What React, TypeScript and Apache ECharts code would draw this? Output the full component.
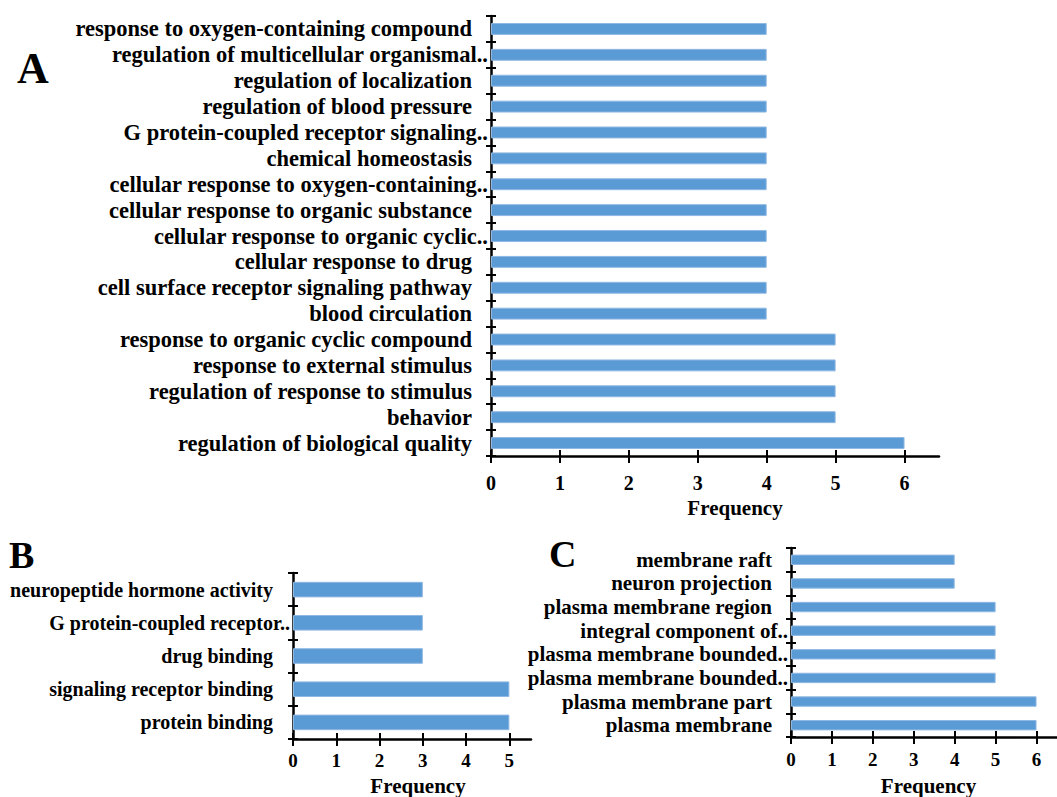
import React, { useEffect, useRef } from "react";
import * as echarts from "echarts";

const A_CATS = [
  "response to oxygen-containing compound",
  "regulation of multicellular organismal..",
  "regulation of localization",
  "regulation of blood pressure",
  "G protein-coupled receptor signaling..",
  "chemical homeostasis",
  "cellular response to oxygen-containing..",
  "cellular response to organic substance",
  "cellular response to organic cyclic..",
  "cellular response to drug",
  "cell surface receptor signaling pathway",
  "blood circulation",
  "response to organic cyclic compound",
  "response to external stimulus",
  "regulation of response to stimulus",
  "behavior",
  "regulation of biological quality",
];
const A_VALS = [4, 4, 4, 4, 4, 4, 4, 4, 4, 4, 4, 4, 5, 5, 5, 5, 6];

const B_CATS = [
  "neuropeptide hormone activity",
  "G protein-coupled receptor..",
  "drug binding",
  "signaling receptor binding",
  "protein binding",
];
const B_VALS = [3, 3, 3, 5, 5];

const C_CATS = [
  "membrane raft",
  "neuron projection",
  "plasma membrane region",
  "integral component of..",
  "plasma membrane bounded..",
  "plasma membrane bounded..",
  "plasma membrane part",
  "plasma membrane",
];
const C_VALS = [4, 4, 5, 5, 5, 5, 6, 6];

const A_TICKS = [0, 1, 2, 3, 4, 5, 6];
const B_TICKS = [0, 1, 2, 3, 4, 5];
const C_TICKS = [0, 1, 2, 3, 4, 5, 6];

const AXIS_TITLE = "Frequency";
const PANEL_LETTERS = ["A", "B", "C"];

const SERIF = "Liberation Serif";
const BAR_COLOR = "#5B9BD5";

function catLabel(fontSize: number, pad: number) {
  const base = { fontFamily: SERIF, fontWeight: "bold" as const, fontSize, color: "#000" };
  return {
    show: true,
    margin: 3,
    interval: 0,
    formatter: (v: string) => (v.endsWith("..") ? `{d|${v}}` : `{n|${v}}`),
    rich: {
      n: { ...base, padding: [0, pad, 0, 0] },
      d: { ...base },
    },
    ...base,
  };
}

export default function App() {
  const ref = useRef<HTMLDivElement>(null);

  useEffect(() => {
    document.body.style.margin = "0";
    if (!ref.current) return;
    const chart = echarts.init(ref.current, null, { renderer: "svg" });

    const panels = [
      { cats: A_CATS, vals: A_VALS, ticks: A_TICKS, max: 6.5, labelSize: 22.5, tickSize: 20, pad: 16, margin: 17, nameGap: 40, namePad: 40, barWidth: "46%" },
      { cats: B_CATS, vals: B_VALS, ticks: B_TICKS, max: 5.5, labelSize: 20, tickSize: 19, pad: 17, margin: 12, nameGap: 36, namePad: 12, barWidth: "47%" },
      { cats: C_CATS, vals: C_VALS, ticks: C_TICKS, max: 6.5, labelSize: 21, tickSize: 19, pad: 16, margin: 13, nameGap: 38, namePad: 9, barWidth: "44%" },
    ];

    const grids = [
      { left: 491, top: 16, width: 448, height: 440 },
      { left: 293, top: 573, width: 238, height: 167 },
      { left: 791, top: 548, width: 273, height: 194 },
    ];

    const xAxis: any[] = [];
    const yAxis: any[] = [];
    const series: any[] = [];
    const lineStyle = { color: "#000", width: 2.5 };

    panels.forEach((p, i) => {
      xAxis.push({
        type: "value",
        gridIndex: i,
        position: "bottom",
        min: 0,
        max: p.max,
        axisLine: { show: true, onZero: false, lineStyle },
        axisTick: { show: true, length: 7, customValues: p.ticks, lineStyle: { color: "#000", width: 2 } },
        axisLabel: {
          show: true,
          customValues: p.ticks,
          margin: p.margin,
          fontFamily: SERIF,
          fontWeight: "bold",
          fontSize: p.tickSize,
          color: "#000",
        },
        splitLine: { show: false },
        name: AXIS_TITLE,
        nameLocation: "middle",
        nameGap: p.nameGap,
        nameTextStyle: {
          fontFamily: SERIF,
          fontWeight: "bold",
          fontSize: 21,
          color: "#000",
          padding: [0, 0, 0, p.namePad],
        },
      });
      xAxis.push({
        type: "value",
        gridIndex: i,
        position: "bottom",
        min: 0,
        max: p.max,
        axisLine: { show: false, onZero: false },
        axisTick: { show: true, inside: true, length: 6, customValues: p.ticks, lineStyle: { color: "#000", width: 2 } },
        axisLabel: { show: false },
        splitLine: { show: false },
      });
      yAxis.push({
        type: "category",
        gridIndex: i,
        position: "left",
        inverse: true,
        data: p.cats,
        axisLine: { show: true, onZero: false, lineStyle },
        axisTick: { show: true, length: 5, lineStyle: { color: "#000", width: 2 } },
        axisLabel: catLabel(p.labelSize, p.pad),
        splitLine: { show: false },
      });
      yAxis.push({
        type: "category",
        gridIndex: i,
        position: "left",
        inverse: true,
        data: p.cats,
        axisLine: { show: false, onZero: false },
        axisTick: { show: true, inside: true, length: 5, lineStyle: { color: "#000", width: 2 } },
        axisLabel: { show: false },
        splitLine: { show: false },
      });
      series.push({
        type: "bar",
        xAxisIndex: i * 2,
        yAxisIndex: i * 2,
        data: p.vals,
        barWidth: p.barWidth,
        itemStyle: { color: BAR_COLOR, borderColor: "#8fb8e3", borderWidth: 1 },
        silent: true,
      });
    });

    const letterStyle = (size: number) => ({
      fontFamily: SERIF,
      fontWeight: "bold",
      fontSize: size,
      fill: "#000",
      textAlign: "left",
    });

    chart.setOption({
      animation: false,
      backgroundColor: "#fff",
      grid: grids,
      xAxis,
      yAxis,
      series,
      graphic: [
        { type: "text", left: 17, top: 46, style: { text: PANEL_LETTERS[0], ...letterStyle(44) } },
        { type: "text", left: 9, top: 536, style: { text: PANEL_LETTERS[1], ...letterStyle(38) } },
        { type: "text", left: 549, top: 535, style: { text: PANEL_LETTERS[2], ...letterStyle(38) } },
      ],
    });

    return () => chart.dispose();
  }, []);

  return <div ref={ref} style={{ width: 1057, height: 797 }} />;
}
